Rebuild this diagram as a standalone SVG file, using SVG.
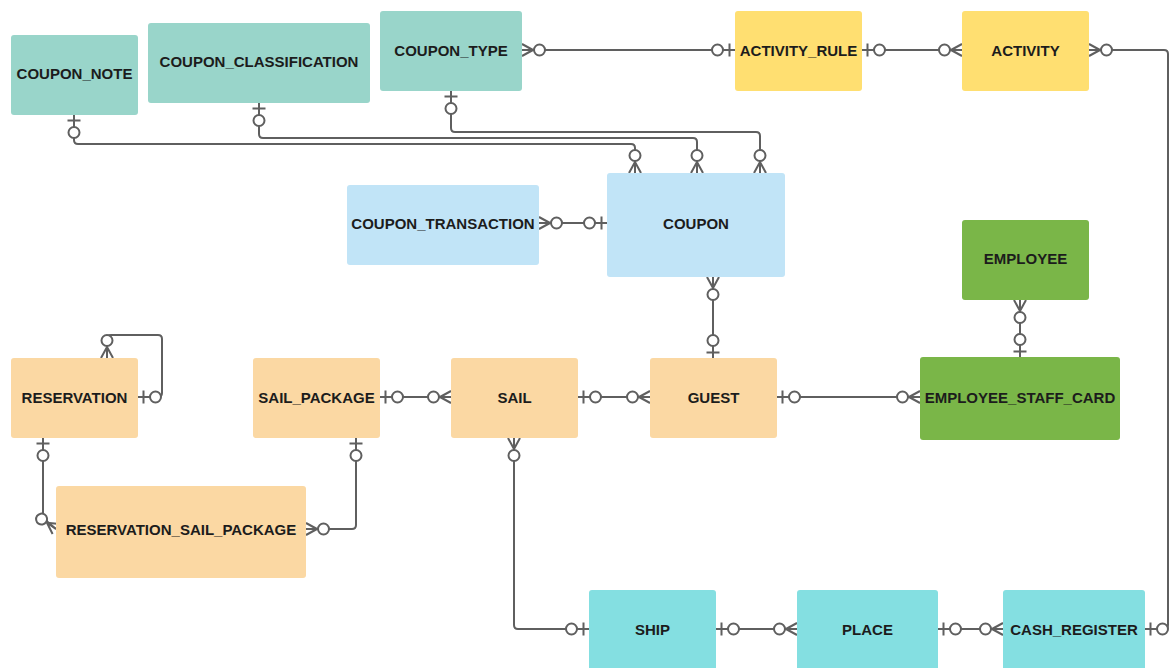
<svg xmlns="http://www.w3.org/2000/svg" xmlns:xlink="http://www.w3.org/1999/xlink" width="1172" height="668" viewBox="0 0 1172 668">
  <style>
    .box { stroke: none; }
    .teal { fill: #99D5CA; }
    .yellow { fill: #FFDF71; }
    .blue { fill: #C1E4F7; }
    .green { fill: #7AB648; }
    .peach { fill: #FBD8A3; }
    .cyan { fill: #84DFE1; }
    .label { font-family: "Liberation Sans", Arial, sans-serif; font-size: 15px; font-weight: bold; fill: #1c1c1c; text-anchor: middle; }
    .conn { fill: none; stroke: #5f5f5f; stroke-width: 2; }
    .end { stroke: #5f5f5f; stroke-width: 2; fill: none; }
    .end circle { fill: #ffffff; }
  </style>
  <defs>
    <!-- crow's foot ends; entity edge at x=0, line runs toward +x -->
    <g id="zm" class="end">
      <path d="M0,-6 L11,0 M0,0 L11.5,0 M0,6 L11,0"/>
      <circle cx="17.5" cy="0" r="5.5"/>
    </g>
    <g id="zo" class="end">
      <path d="M5.5,-6.5 V6.5 M0,0 H12"/>
      <circle cx="17.5" cy="0" r="5.5"/>
    </g>
  </defs>

  <rect width="1172" height="668" fill="#ffffff"/>

  <g id="connectors">
    <g class="conn">
      <path d="M522,50 H735"/>
      <path d="M862,50 H962"/>
      <path d="M1089,50 H1164 Q1168,50 1168,54 V625 Q1168,629 1164,629 H1145"/>
      <path d="M74,115 V140 Q74,144 78,144 H631 Q635,144 635,148 V173"/>
      <path d="M259,103 V134 Q259,138 263,138 H693 Q697,138 697,142 V173"/>
      <path d="M451,91 V128 Q451,132 455,132 H756 Q760,132 760,136 V173"/>
      <path d="M539,223 H607"/>
      <path d="M713,277 V358"/>
      <path d="M1020,300 V357"/>
      <path d="M777,397 H920"/>
      <path d="M578,397 H650"/>
      <path d="M380,397 H451"/>
      <path d="M138,397 H158 Q162,397 162,393 V339 Q162,335 158,335 H111 Q107,335 107,339 V358"/>
      <path d="M43,438 V518 L56,529"/>
      <path d="M356,438 V525 Q356,529 352,529 H306"/>
      <path d="M514,438 V625 Q514,629 518,629 H589"/>
      <path d="M716,629 H797"/>
      <path d="M938,629 H1003"/>
    </g>
    <!-- cardinality ends -->
    <use xlink:href="#zm" transform="translate(522,50)"/>
    <use xlink:href="#zo" transform="translate(735,50) rotate(180)"/>
    <use xlink:href="#zo" transform="translate(862,50)"/>
    <use xlink:href="#zm" transform="translate(962,50) rotate(180)"/>
    <use xlink:href="#zm" transform="translate(1089,50)"/>
    <use xlink:href="#zo" transform="translate(1145,629)"/>
    <use xlink:href="#zo" transform="translate(74,115) rotate(90)"/>
    <use xlink:href="#zm" transform="translate(635,173) rotate(-90)"/>
    <use xlink:href="#zo" transform="translate(259,103) rotate(90)"/>
    <use xlink:href="#zm" transform="translate(697,173) rotate(-90)"/>
    <use xlink:href="#zo" transform="translate(451,91) rotate(90)"/>
    <use xlink:href="#zm" transform="translate(760,173) rotate(-90)"/>
    <use xlink:href="#zm" transform="translate(539,223)"/>
    <use xlink:href="#zo" transform="translate(607,223) rotate(180)"/>
    <use xlink:href="#zm" transform="translate(713,277) rotate(90)"/>
    <use xlink:href="#zo" transform="translate(713,358) rotate(-90)"/>
    <use xlink:href="#zm" transform="translate(1020,300) rotate(90)"/>
    <use xlink:href="#zo" transform="translate(1020,357) rotate(-90)"/>
    <use xlink:href="#zo" transform="translate(777,397)"/>
    <use xlink:href="#zm" transform="translate(920,397) rotate(180)"/>
    <use xlink:href="#zo" transform="translate(578,397)"/>
    <use xlink:href="#zm" transform="translate(650,397) rotate(180)"/>
    <use xlink:href="#zo" transform="translate(380,397)"/>
    <use xlink:href="#zm" transform="translate(451,397) rotate(180)"/>
    <use xlink:href="#zo" transform="translate(138,397)"/>
    <use xlink:href="#zm" transform="translate(107,358) rotate(-90)"/>
    <use xlink:href="#zo" transform="translate(43,438) rotate(90)"/>
    <use xlink:href="#zm" transform="translate(56,529) rotate(214.6)"/>
    <use xlink:href="#zo" transform="translate(356,438) rotate(90)"/>
    <use xlink:href="#zm" transform="translate(306,529)"/>
    <use xlink:href="#zm" transform="translate(514,438) rotate(90)"/>
    <use xlink:href="#zo" transform="translate(589,629) rotate(180)"/>
    <use xlink:href="#zo" transform="translate(716,629)"/>
    <use xlink:href="#zm" transform="translate(797,629) rotate(180)"/>
    <use xlink:href="#zo" transform="translate(938,629)"/>
    <use xlink:href="#zm" transform="translate(1003,629) rotate(180)"/>
  </g>

  <g id="coupon_note">
    <rect class="box teal" x="11" y="35" width="127" height="80" rx="3"/>
    <text class="label" x="74.5" y="78.5">COUPON_NOTE</text>
  </g>
  <g id="coupon_classification">
    <rect class="box teal" x="148" y="23" width="222" height="80" rx="3"/>
    <text class="label" x="259" y="66.5">COUPON_CLASSIFICATION</text>
  </g>
  <g id="coupon_type">
    <rect class="box teal" x="380" y="11" width="142" height="80" rx="3"/>
    <text class="label" x="451" y="55.5">COUPON_TYPE</text>
  </g>
  <g id="activity_rule">
    <rect class="box yellow" x="735" y="11" width="127" height="80" rx="3"/>
    <text class="label" x="798.5" y="55.5">ACTIVITY_RULE</text>
  </g>
  <g id="activity">
    <rect class="box yellow" x="962" y="11" width="127" height="80" rx="3"/>
    <text class="label" x="1025.5" y="55.5">ACTIVITY</text>
  </g>
  <g id="coupon_transaction">
    <rect class="box blue" x="347" y="185" width="192" height="80" rx="3"/>
    <text class="label" x="443" y="228.5">COUPON_TRANSACTION</text>
  </g>
  <g id="coupon">
    <rect class="box blue" x="607" y="173" width="178" height="104" rx="3"/>
    <text class="label" x="696" y="228.5">COUPON</text>
  </g>
  <g id="employee">
    <rect class="box green" x="962" y="220" width="127" height="80" rx="3"/>
    <text class="label" x="1025.5" y="263.5">EMPLOYEE</text>
  </g>
  <g id="employee_staff_card">
    <rect class="box green" x="920" y="357" width="200" height="83" rx="3"/>
    <text class="label" x="1020" y="402.5">EMPLOYEE_STAFF_CARD</text>
  </g>
  <g id="reservation">
    <rect class="box peach" x="11" y="358" width="127" height="80" rx="3"/>
    <text class="label" x="74.5" y="402.5">RESERVATION</text>
  </g>
  <g id="sail_package">
    <rect class="box peach" x="253" y="358" width="127" height="80" rx="3"/>
    <text class="label" x="316.5" y="402.5">SAIL_PACKAGE</text>
  </g>
  <g id="sail">
    <rect class="box peach" x="451" y="358" width="127" height="80" rx="3"/>
    <text class="label" x="514.5" y="402.5">SAIL</text>
  </g>
  <g id="guest">
    <rect class="box peach" x="650" y="358" width="127" height="80" rx="3"/>
    <text class="label" x="713.5" y="402.5">GUEST</text>
  </g>
  <g id="reservation_sail_package">
    <rect class="box peach" x="56" y="486" width="250" height="92" rx="3"/>
    <text class="label" x="181" y="534.5">RESERVATION_SAIL_PACKAGE</text>
  </g>
  <g id="ship">
    <rect class="box cyan" x="589" y="590" width="127" height="82" rx="3"/>
    <text class="label" x="652.5" y="634.5">SHIP</text>
  </g>
  <g id="place">
    <rect class="box cyan" x="797" y="590" width="141" height="82" rx="3"/>
    <text class="label" x="867.5" y="634.5">PLACE</text>
  </g>
  <g id="cash_register">
    <rect class="box cyan" x="1003" y="590" width="142" height="82" rx="3"/>
    <text class="label" x="1074" y="634.5">CASH_REGISTER</text>
  </g>
</svg>
